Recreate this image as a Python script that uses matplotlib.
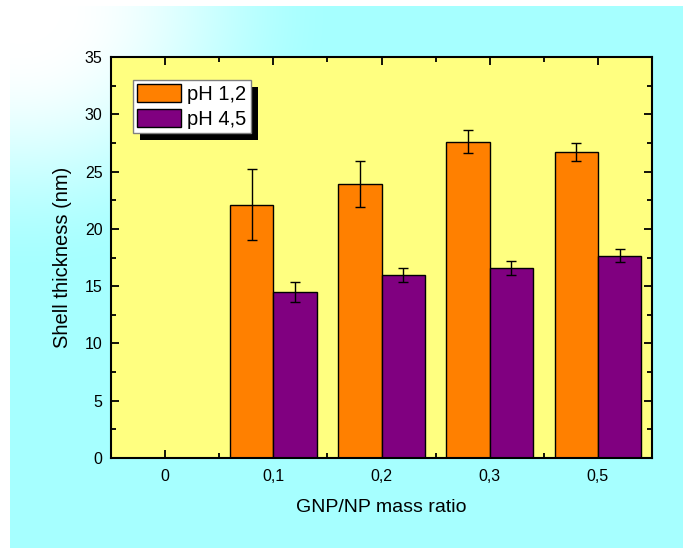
import numpy as np
import matplotlib
matplotlib.use("Agg")
import matplotlib.pyplot as plt
from matplotlib.patches import Rectangle
from matplotlib.ticker import MultipleLocator, FixedLocator

plt.rcParams['font.family'] = ['Liberation Sans', 'DejaVu Sans']

categories = ['0', '0,1', '0,2', '0,3', '0,5']
ph12 = [np.nan, 22.1, 23.9, 27.6, 26.7]
ph12_err = [np.nan, 3.1, 2.0, 1.0, 0.8]
ph45 = [np.nan, 14.5, 16.0, 16.6, 17.65]
ph45_err = [np.nan, 0.9, 0.6, 0.6, 0.55]
series_labels = ['pH 1,2', 'pH 4,5']

W, H = 683, 548
fig = plt.figure(figsize=(W / 100, H / 100), dpi=100, facecolor='white')

# background gradient (white top-left -> cyan)
bg = fig.add_axes([10 / W, 0, 1 - 10 / W, 1 - 6 / H], zorder=-10)
yy, xx = np.mgrid[0:H - 6, 0:W - 10]
d = np.sqrt((xx + 10 - 20.0) ** 2 + ((yy + 6 - 10.0) * 1.2) ** 2)
t = np.clip((d - 40) / 280.0, 0, 1)
t = t * t * (3 - 2 * t)
cyan = np.array([166, 255, 255]) / 255.0
white = np.array([1.0, 1.0, 1.0])
img = white[None, None, :] * (1 - t[..., None]) + cyan[None, None, :] * t[..., None]
bg.imshow(img, aspect='auto', interpolation='bilinear')
bg.set_axis_off()

left, right, top, bottom = 111, 652, 57, 458
ax = fig.add_axes([left / W, (H - bottom) / H, (right - left) / W, (bottom - top) / H])
ax.set_facecolor('#FFFF80')

x = np.arange(len(categories))
bw = 0.4
mask = ~np.isnan(np.array(ph12))
xs = x[mask]
v1 = np.array(ph12)[mask]; e1 = np.array(ph12_err)[mask]
v2 = np.array(ph45)[mask]; e2 = np.array(ph45_err)[mask]

ax.bar(xs - bw / 2, v1, bw, color='#FF8000', edgecolor='black', linewidth=1.0, label=series_labels[0], zorder=2)
ax.bar(xs + bw / 2, v2, bw, color='#800080', edgecolor='black', linewidth=1.0, label=series_labels[1], zorder=2)
ax.errorbar(xs - bw / 2, v1, yerr=e1, fmt='none', ecolor='black', elinewidth=1.0, capsize=3.6, capthick=1.0, zorder=3)
ax.errorbar(xs + bw / 2, v2, yerr=e2, fmt='none', ecolor='black', elinewidth=1.0, capsize=3.6, capthick=1.0, zorder=3)

ax.set_xlim(-0.5, len(categories) - 0.5)
ax.set_ylim(0, 35)
ax.set_xticks(x)
ax.set_xticklabels(categories)
ax.xaxis.set_minor_locator(FixedLocator(np.arange(-0.5, len(categories), 1.0)))
ax.yaxis.set_major_locator(MultipleLocator(5))
ax.yaxis.set_minor_locator(MultipleLocator(2.5))
ax.tick_params(which='both', direction='in', top=True, right=True, width=1.3, colors='black')
ax.tick_params(which='major', length=6)
ax.tick_params(which='minor', length=3.5)
ax.tick_params(axis='y', which='major', labelsize=11.5, pad=6)
ax.tick_params(axis='x', which='major', labelsize=11.5, pad=8)
for s in ax.spines.values():
    s.set_linewidth(1.5)

ax.set_xlabel('GNP/NP mass ratio', fontsize=14, labelpad=11)
ax.set_ylabel('Shell thickness (nm)', fontsize=14.5, labelpad=9)

leg = ax.legend(loc='upper left', bbox_to_anchor=((133 - left) / (right - left), (bottom - 80) / (bottom - top)),
                borderaxespad=0, fontsize=14.5, handlelength=2.2, handleheight=1.0,
                labelspacing=0.25, handletextpad=0.3, borderpad=0.2, fancybox=False,
                framealpha=1, edgecolor='#808080', facecolor='white')
leg.get_frame().set_linewidth(1.0)
leg.set_zorder(6)

fig.canvas.draw()
bb = leg.get_window_extent()
shadow = Rectangle((bb.x0 + 7, bb.y0 - 7), bb.width, bb.height, transform=None,
                   facecolor='black', edgecolor='none', zorder=5)
ax.add_artist(shadow)

fig.savefig('out.png', dpi=100, facecolor='white')
